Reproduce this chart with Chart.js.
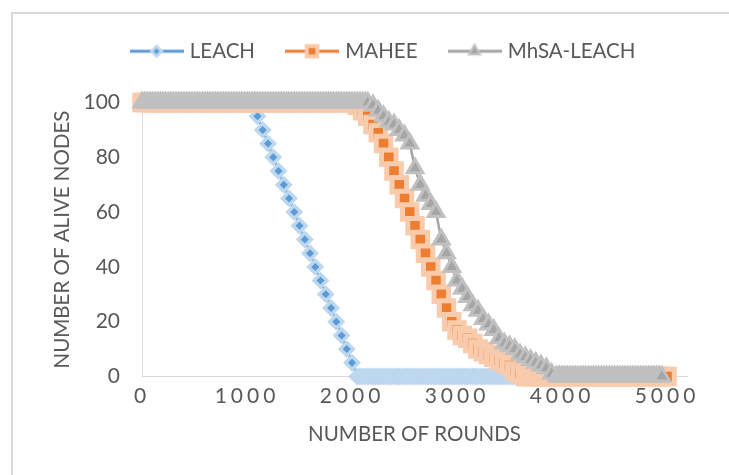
<!DOCTYPE html>
<html>
<head>
<meta charset="utf-8">
<script src="https://cdn.jsdelivr.net/npm/chart.js@4.4.1/dist/chart.umd.min.js"></script>
<style>
  body { margin: 0; background: #fff; }
  canvas { display: block; }
</style>
</head>
<body>
<canvas id="myChart" width="729" height="475"></canvas>
<script>
// setup block
// data: rounds (x) and alive nodes (y) per series.
// flat stretches are sampled densely, like the original export, so the
// marker outlines melt into a solid band
const leachRounds = [
  0, 50, 100, 150, 200, 250, 300, 350, 400, 450,
  500, 550, 600, 650, 700, 750, 800, 850, 900, 950,
  1000, 1050,
  1100, 1150, 1200, 1250, 1300, 1350, 1400, 1450, 1500, 1550,
  1600, 1650, 1700, 1750, 1800, 1850, 1900, 1950, 2000,
  2050, 2075, 2100, 2125, 2150, 2175, 2200, 2225, 2250, 2275,
  2300, 2325, 2350, 2375, 2400, 2425, 2450, 2475, 2500, 2525,
  2550, 2575, 2600, 2625, 2650, 2675, 2700, 2725, 2750, 2775,
  2800, 2825, 2850, 2875, 2900, 2925, 2950, 2975, 3000, 3025,
  3050, 3075, 3100, 3125, 3150, 3175, 3200, 3225, 3250, 3275,
  3300, 3325, 3350, 3375, 3400, 3425, 3450, 3475, 3500, 3525,
  3550, 3575, 3600,
  3650, 3700, 3750, 3800, 3850, 3900, 3950, 4000, 4050, 4100,
  4150, 4200, 4250, 4300, 4350, 4400, 4450, 4500, 4550, 4600,
  4650, 4700, 4750, 4800, 4850, 4900, 4950, 5000,
];
const leachAlive = [
  100, 100, 100, 100, 100, 100, 100, 100, 100, 100,
  100, 100, 100, 100, 100, 100, 100, 100, 100, 100,
  100, 100,
  95, 90, 85, 80, 75, 70, 65, 60, 55, 50,
  45, 40, 35, 30, 25, 20, 15, 10, 5,
  0, 0, 0, 0, 0, 0, 0, 0, 0, 0,
  0, 0, 0, 0, 0, 0, 0, 0, 0, 0,
  0, 0, 0, 0, 0, 0, 0, 0, 0, 0,
  0, 0, 0, 0, 0, 0, 0, 0, 0, 0,
  0, 0, 0, 0, 0, 0, 0, 0, 0, 0,
  0, 0, 0, 0, 0, 0, 0, 0, 0, 0,
  0, 0, 0,
  0, 0, 0, 0, 0, 0, 0, 0, 0, 0,
  0, 0, 0, 0, 0, 0, 0, 0, 0, 0,
  0, 0, 0, 0, 0, 0, 0, 0,
];

const maheeRounds = [
  0, 25, 50, 75, 100, 125, 150, 175, 200, 225,
  250, 275, 300, 325, 350, 375, 400, 425, 450, 475,
  500, 525, 550, 575, 600, 625, 650, 675, 700, 725,
  750, 775, 800, 825, 850, 875, 900, 925, 950, 975,
  1000, 1025, 1050, 1075, 1100, 1125, 1150, 1175, 1200, 1225,
  1250, 1275, 1300, 1325, 1350, 1375, 1400, 1425, 1450, 1475,
  1500, 1525, 1550, 1575, 1600, 1625, 1650, 1675, 1700, 1725,
  1750, 1775, 1800, 1825, 1850, 1875, 1900, 1925, 1950, 1975,
  2000,
  2050, 2100, 2150, 2200, 2250, 2300, 2350, 2400, 2450, 2500,
  2550, 2600, 2650, 2700, 2750, 2800, 2850, 2900, 2950, 3000,
  3050, 3100, 3150, 3200, 3250, 3300, 3350, 3400, 3450, 3500,
  3550, 3600,
  3650, 3675, 3700, 3725, 3750, 3775, 3800, 3825, 3850, 3875,
  3900, 3925, 3950, 3975, 4000, 4025, 4050, 4075, 4100, 4125,
  4150, 4175, 4200, 4225, 4250, 4275, 4300, 4325, 4350, 4375,
  4400, 4425, 4450, 4475, 4500, 4525, 4550, 4575, 4600, 4625,
  4650, 4675, 4700, 4725, 4750, 4775, 4800, 4825, 4850, 4875,
  4900, 4925, 4950, 4975, 5000,
];
const maheeAlive = [
  100, 100, 100, 100, 100, 100, 100, 100, 100, 100,
  100, 100, 100, 100, 100, 100, 100, 100, 100, 100,
  100, 100, 100, 100, 100, 100, 100, 100, 100, 100,
  100, 100, 100, 100, 100, 100, 100, 100, 100, 100,
  100, 100, 100, 100, 100, 100, 100, 100, 100, 100,
  100, 100, 100, 100, 100, 100, 100, 100, 100, 100,
  100, 100, 100, 100, 100, 100, 100, 100, 100, 100,
  100, 100, 100, 100, 100, 100, 100, 100, 100, 100,
  100,
  99, 97, 95, 92, 89, 85, 80, 75, 70, 65,
  60, 55, 50, 45, 40, 35, 30, 25, 20, 17,
  15, 14, 12, 10, 9, 8, 7, 6, 5, 4,
  2, 1,
  0, 0, 0, 0, 0, 0, 0, 0, 0, 0,
  0, 0, 0, 0, 0, 0, 0, 0, 0, 0,
  0, 0, 0, 0, 0, 0, 0, 0, 0, 0,
  0, 0, 0, 0, 0, 0, 0, 0, 0, 0,
  0, 0, 0, 0, 0, 0, 0, 0, 0, 0,
  0, 0, 0, 0, 0,
];

const mhsaRounds = [
  0, 25, 50, 75, 100, 125, 150, 175, 200, 225,
  250, 275, 300, 325, 350, 375, 400, 425, 450, 475,
  500, 525, 550, 575, 600, 625, 650, 675, 700, 725,
  750, 775, 800, 825, 850, 875, 900, 925, 950, 975,
  1000, 1025, 1050, 1075, 1100, 1125, 1150, 1175, 1200, 1225,
  1250, 1275, 1300, 1325, 1350, 1375, 1400, 1425, 1450, 1475,
  1500, 1525, 1550, 1575, 1600, 1625, 1650, 1675, 1700, 1725,
  1750, 1775, 1800, 1825, 1850, 1875, 1900, 1925, 1950, 1975,
  2000, 2025, 2050, 2075, 2100, 2125, 2150,
  2200, 2250, 2300, 2350, 2400, 2450, 2500, 2550, 2600, 2650,
  2700, 2750, 2800, 2850, 2900, 2950, 3000, 3050, 3100, 3150,
  3200, 3250, 3300, 3350, 3400, 3450, 3500, 3550, 3600, 3650,
  3700, 3750, 3800, 3850, 3900,
  3950, 3975, 4000, 4025, 4050, 4075, 4100, 4125, 4150, 4175,
  4200, 4225, 4250, 4275, 4300, 4325, 4350, 4375, 4400, 4425,
  4450, 4475, 4500, 4525, 4550, 4575, 4600, 4625, 4650, 4675,
  4700, 4725, 4750, 4775, 4800, 4825, 4850, 4875, 4900, 4925,
  4950,
];
const mhsaAlive = [
  100, 100, 100, 100, 100, 100, 100, 100, 100, 100,
  100, 100, 100, 100, 100, 100, 100, 100, 100, 100,
  100, 100, 100, 100, 100, 100, 100, 100, 100, 100,
  100, 100, 100, 100, 100, 100, 100, 100, 100, 100,
  100, 100, 100, 100, 100, 100, 100, 100, 100, 100,
  100, 100, 100, 100, 100, 100, 100, 100, 100, 100,
  100, 100, 100, 100, 100, 100, 100, 100, 100, 100,
  100, 100, 100, 100, 100, 100, 100, 100, 100, 100,
  100, 100, 100, 100, 100, 100, 100,
  99, 97, 95, 93, 92, 90, 88, 85, 76, 70,
  66, 63, 60, 50, 45, 40, 35, 32, 29, 26,
  24, 21, 19, 17, 14, 12, 11, 10, 8, 7,
  6, 5, 4, 3, 1,
  0, 0, 0, 0, 0, 0, 0, 0, 0, 0,
  0, 0, 0, 0, 0, 0, 0, 0, 0, 0,
  0, 0, 0, 0, 0, 0, 0, 0, 0, 0,
  0, 0, 0, 0, 0, 0, 0, 0, 0, 0,
  0,
];

const seriesNames = ["LEACH", "MAHEE", "MhSA-LEACH"];
const xTicks = [0, 1000, 2000, 3000, 4000, 5000];

const textColor = "#595959";
const FONT = "Lato";
const FONT_SIZE = 20.5;

const toPoints = (xs, ys) => xs.map((r, i) => ({ x: r, y: ys[i] }));

// legend icons: a short line with the marker on it
function legendIcon(color, light, style, radius, bw) {
  const c = document.createElement("canvas");
  c.width = 54;
  c.height = 22;
  const g = c.getContext("2d");
  g.strokeStyle = color;
  g.lineWidth = 3;
  g.beginPath();
  g.moveTo(0, 11);
  g.lineTo(54, 11);
  g.stroke();
  g.fillStyle = color;
  g.strokeStyle = light;
  g.lineWidth = bw;
  Chart.helpers.drawPoint(g, { pointStyle: style, radius: radius, borderWidth: bw, rotation: 0 }, 27, 11);
  return c;
}
const icons = [
  legendIcon("#5B9BD5", "#BDD7EE", "rectRot", 5, 3),
  legendIcon("#ED7D31", "#F8CBAD", "rect", 7.5, 4),
  legendIcon("#A5A5A5", "#C4C4C4", "triangle", 6.5, 2),
];

const data = {
  datasets: [
    {
      label: seriesNames[0],
      data: toPoints(leachRounds, leachAlive),
      borderColor: "#5B9BD5",
      borderWidth: 2.5,
      pointStyle: "rectRot",
      pointRadius: 6.5,
      pointBackgroundColor: "#5B9BD5",
      pointBorderColor: "#BDD7EE",
      pointBorderWidth: 3.5,
      order: 2,
      clip: false,
    },
    {
      label: seriesNames[1],
      data: toPoints(maheeRounds, maheeAlive),
      borderColor: "#ED7D31",
      borderWidth: 2.5,
      pointStyle: "rect",
      pointRadius: 10.25,
      pointBackgroundColor: "#ED7D31",
      pointBorderColor: "#F8CBAD",
      pointBorderWidth: 5,
      order: 1,
      clip: false,
    },
    {
      label: seriesNames[2],
      data: toPoints(mhsaRounds, mhsaAlive),
      borderColor: "#A5A5A5",
      borderWidth: 2.5,
      pointStyle: "triangle",
      pointRadius: 9,
      pointBackgroundColor: "#A5A5A5",
      pointBorderColor: "#C0C0C0",
      pointBorderWidth: 3,
      order: 0,
      clip: false,
    },
  ],
};

// plugin - outer frame, legend position, spaced x tick labels
const LEGEND_TOP = 7;
const LEGEND_SHIFT = 35;
const frameAndTweaks = {
  id: "frameAndTweaks",
  beforeDraw(chart) {
    const { ctx } = chart;
    ctx.save();
    ctx.fillStyle = "#D9D9D9";
    ctx.fillRect(11, 12, 718, 2);
    ctx.fillRect(11, 12, 2, 463);
    ctx.restore();
  },
  afterLayout(chart) {
    const lg = chart.legend;
    if (lg) {
      const h = lg.height;
      lg.top = LEGEND_TOP;
      lg.bottom = LEGEND_TOP + h;
      lg.left += LEGEND_SHIFT;
      lg.right += LEGEND_SHIFT;
    }
    const sx = chart.scales.x;
    if (!sx._spaced) {
      const orig = sx.drawLabels;
      sx.drawLabels = function (area) {
        const c = this.ctx;
        c.save();
        c.letterSpacing = "4px";
        orig.call(this, area);
        c.restore();
      };
      sx._spaced = true;
    }
  },
};

// config block
const config = {
  type: "line",
  data: data,
  options: {
    responsive: false,
    animation: false,
    devicePixelRatio: 1,
    layout: { padding: { left: 12, right: 42, top: 38, bottom: 0 } },
    plugins: {
      tooltip: { enabled: false },
      legend: {
        position: "top",
        labels: {
          usePointStyle: true,
          pointStyleWidth: 46,
          padding: 34,
          color: textColor,
          font: { family: FONT, size: FONT_SIZE },
          sort: (a, b) => a.datasetIndex - b.datasetIndex,
          generateLabels(chart) {
            const items = Chart.defaults.plugins.legend.labels.generateLabels(chart);
            items.forEach((it) => { it.pointStyle = icons[it.datasetIndex]; });
            return items;
          },
        },
      },
    },
    scales: {
      x: {
        type: "linear",
        min: 0,
        max: 5190,
        grid: { display: false, drawTicks: false },
        border: { display: true, color: "#D9D9D9", width: 1 },
        afterFit(scale) { scale.height = 98.5; },
        afterBuildTicks(scale) { scale.ticks = xTicks.map((v) => ({ value: v })); },
        ticks: {
          includeBounds: false,
          padding: 7,
          color: textColor,
          font: { family: FONT, size: 21 },
          maxRotation: 0,
          callback: (v) => String(v),
        },
        title: {
          display: true,
          text: "NUMBER OF ROUNDS",
          color: textColor,
          font: { family: FONT, size: FONT_SIZE },
          padding: { top: 0, bottom: 28 },
        },
      },
      y: {
        min: 0,
        max: 100,
        grid: { display: false, drawTicks: false },
        border: { display: true, color: "#D9D9D9", width: 1 },
        afterFit(scale) { scale.width = 130; },
        ticks: {
          stepSize: 20,
          padding: 22,
          color: textColor,
          font: { family: FONT, size: 21 },
        },
        title: {
          display: true,
          text: "NUMBER OF ALIVE NODES",
          color: textColor,
          font: { family: FONT, size: FONT_SIZE },
          padding: { top: 38, bottom: 0 },
        },
      },
    },
  },
  plugins: [frameAndTweaks],
};

// render init block
const myChart = new Chart(document.getElementById("myChart"), config);
</script>
</body>
</html>
